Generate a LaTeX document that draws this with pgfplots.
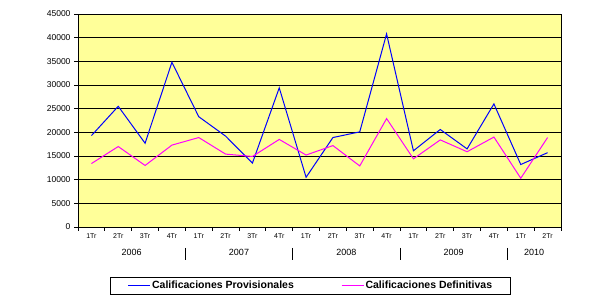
\documentclass[border=0pt]{standalone}
\usepackage{fontspec}
\setmainfont{Liberation Sans}
\usepackage{pgfplots}
\usetikzlibrary{calc}
\pgfplotsset{compat=1.18}
\definecolor{bgy}{HTML}{FFFF99}
\definecolor{mag}{HTML}{FF00FF}
\begin{document}
\begin{tikzpicture}
\path[use as bounding box] (0,0) rectangle (610pt,304pt);
\begin{axis}[
  at={(78pt,77pt)}, anchor=south west,
  scale only axis, width=483pt, height=213pt,
  xmin=-0.5, xmax=17.5, ymin=0, ymax=45000,
  clip=false,
  axis background/.style={fill=bgy},
  axis line style={black, line width=0.8pt},
  ytick={0,5000,...,45000},
  ymajorgrids, grid style={black, line width=0.8pt},
  /pgf/number format/assume math mode=true,
  /pgf/number format/1000 sep={},
  scaled y ticks=false,
  yticklabel style={font=\fontsize{8.5}{9}\selectfont},
  xtick={0,...,17},
  xticklabels={1Tr,2Tr,3Tr,4Tr,1Tr,2Tr,3Tr,4Tr,1Tr,2Tr,3Tr,4Tr,1Tr,2Tr,3Tr,4Tr,1Tr,2Tr},
  xticklabel style={font=\fontsize{7}{8}\selectfont, yshift=1pt},
  major x tick style={draw=none},
  extra x ticks={-0.5,0.5,...,17.5},
  extra x tick labels={},
  extra x tick style={major x tick style={draw=black, line width=0.8pt}, major tick length=4pt},
  y tick style={black, line width=0.8pt},
  tick align=outside,
  major tick length=4pt,
  xtick pos=bottom, ytick pos=left,
  legend columns=2,
  legend style={at={(0.481,-0.2746)}, anchor=center, draw=black, line width=0.8pt,
    font=\bfseries\fontsize{10.5}{11}\selectfont, inner xsep=17pt, inner ysep=2pt,
    /tikz/every even column/.append style={column sep=46pt},
    nodes={inner xsep=1pt}},
  legend image code/.code={\draw[#1, line width=1.6pt] (0pt,0pt) -- (22pt,0pt);},
]
\addplot[blue, line width=1pt] coordinates {
(0,19300) (1,25500) (2,17700) (3,34800) (4,23300) (5,19200) (6,13500) (7,29400) (8,10500)
(9,18900) (10,20100) (11,40800) (12,16100) (13,20600) (14,16500) (15,26000) (16,13200) (17,15700)};
\addlegendentry{Calificaciones Provisionales}
\addplot[mag, line width=1pt] coordinates {
(0,13400) (1,17000) (2,13000) (3,17300) (4,18900) (5,15400) (6,14900) (7,18500) (8,15200)
(9,17200) (10,12900) (11,22900) (12,14400) (13,18400) (14,15900) (15,19000) (16,10300) (17,18900)};
\addlegendentry{Calificaciones Definitivas\hspace{36pt}}
\node[font=\fontsize{9}{10}\selectfont] at ($(axis cs:1.5,0)+(0pt,-25pt)$) {2006};
\node[font=\fontsize{9}{10}\selectfont] at ($(axis cs:5.5,0)+(0pt,-25pt)$) {2007};
\node[font=\fontsize{9}{10}\selectfont] at ($(axis cs:9.5,0)+(0pt,-25pt)$) {2008};
\node[font=\fontsize{9}{10}\selectfont] at ($(axis cs:13.5,0)+(0pt,-25pt)$) {2009};
\node[font=\fontsize{9}{10}\selectfont] at ($(axis cs:16.5,0)+(0pt,-25pt)$) {2010};
\draw[black, line width=1pt] ($(axis cs:3.5,0)+(0pt,-21pt)$) -- ($(axis cs:3.5,0)+(0pt,-33pt)$);
\draw[black, line width=1pt] ($(axis cs:7.5,0)+(0pt,-21pt)$) -- ($(axis cs:7.5,0)+(0pt,-33pt)$);
\draw[black, line width=1pt] ($(axis cs:11.5,0)+(0pt,-21pt)$) -- ($(axis cs:11.5,0)+(0pt,-33pt)$);
\draw[black, line width=1pt] ($(axis cs:15.5,0)+(0pt,-21pt)$) -- ($(axis cs:15.5,0)+(0pt,-33pt)$);
\end{axis}
\end{tikzpicture}
\end{document}
